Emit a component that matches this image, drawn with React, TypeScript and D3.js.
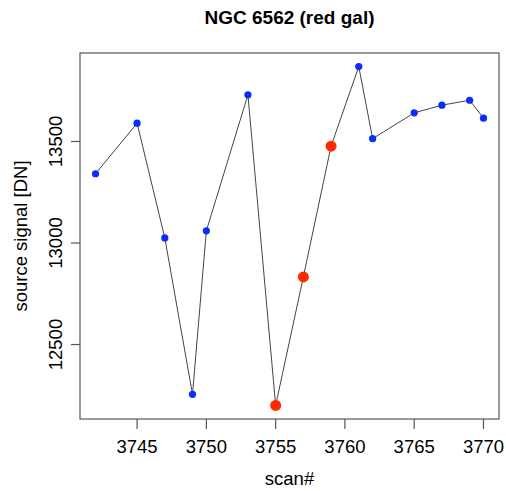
import React from "react";
import * as d3 from "d3";

const scans = [3742, 3745, 3747, 3749, 3750, 3753, 3755, 3757, 3759, 3761, 3762, 3765, 3767, 3769, 3770];
const signal = [13341, 13590, 13025, 12255, 13060, 13730, 12200, 12833, 13477, 13869, 13514, 13641, 13679, 13703, 13615];
const highlighted = [false, false, false, false, false, false, true, true, true, false, false, false, false, false, false];
const xTicks = [3745, 3750, 3755, 3760, 3765, 3770];
const yTicks = [12500, 13000, 13500];

const W = 506, H = 491;
const L = 80, R = 499, T = 53, B = 419;

export default function App() {
  const xmin = d3.min(scans)!, xmax = d3.max(scans)!;
  const ymin = d3.min(signal)!, ymax = d3.max(signal)!;
  const xpad = (xmax - xmin) * 0.04, ypad = (ymax - ymin) * 0.04;
  const x = d3.scaleLinear().domain([xmin - xpad, xmax + xpad]).range([L, R]);
  const y = d3.scaleLinear().domain([ymin - ypad, ymax + ypad]).range([B, T]);
  const pts = scans.map((s, i) => ({ s, v: signal[i], h: highlighted[i] }));
  const line = d3.line<{ s: number; v: number }>().x(d => x(d.s)).y(d => y(d.v));
  const font = "'Liberation Sans', Arial, Helvetica, sans-serif";
  return (
    <svg width={W} height={H} style={{ position: "absolute", left: 0, top: 0, background: "#fff" }} fontFamily={font}>
      <text x={(L + R) / 2} y={24} textAnchor="middle" fontWeight="bold" fontSize={19}>NGC 6562 (red gal)</text>
      <rect x={L} y={T} width={R - L} height={B - T} fill="none" stroke="#555" strokeWidth={1.2} />
      {xTicks.map(t => (
        <g key={t}>
          <line x1={x(t)} x2={x(t)} y1={B} y2={B + 10} stroke="#555" strokeWidth={1.2} />
          <text x={x(t)} y={453} textAnchor="middle" fontSize={18.5}>{t}</text>
        </g>
      ))}
      {yTicks.map(t => (
        <g key={t}>
          <line x1={L - 9} x2={L} y1={y(t)} y2={y(t)} stroke="#555" strokeWidth={1.2} />
          <text transform={`translate(62,${y(t)}) rotate(-90)`} textAnchor="middle" fontSize={18.5}>{t}</text>
        </g>
      ))}
      <text x={(L + R) / 2} y={485} textAnchor="middle" fontSize={18.5}>scan#</text>
      <text transform={`translate(27,${(T + B) / 2}) rotate(-90)`} textAnchor="middle" fontSize={18.5}>source signal [DN]</text>
      <path d={line(pts) || ""} fill="none" stroke="#444" strokeWidth={1} />
      {pts.map((p, i) => (
        <circle key={i} cx={x(p.s)} cy={y(p.v)} r={p.h ? 5.5 : 3.6} fill={p.h ? "#ff2a00" : "#0a2cff"} />
      ))}
    </svg>
  );
}
